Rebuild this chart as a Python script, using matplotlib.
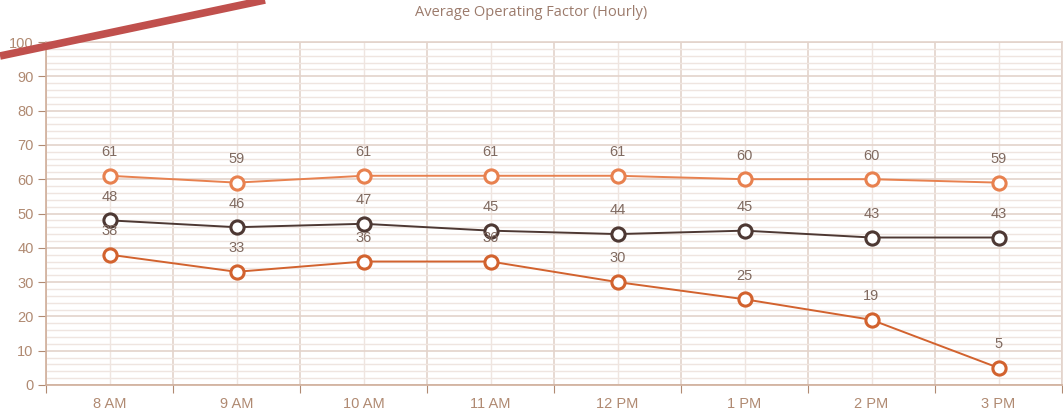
import matplotlib.pyplot as plt
from matplotlib.lines import Line2D
from matplotlib.ticker import MultipleLocator
import numpy as np

hours = ['8 AM', '9 AM', '10 AM', '11 AM', '12 PM', '1 PM', '2 PM', '3 PM']
upper = [61, 59, 61, 61, 61, 60, 60, 59]
middle = [48, 46, 47, 45, 44, 45, 43, 43]
lower = [38, 33, 36, 36, 30, 25, 19, 5]

series = [
    (upper, '#e8814f'),
    (middle, '#4d3833'),
    (lower, '#d2622e'),
]

label_color = '#806a60'
tick_color = '#b08a72'
major_grid = '#e3d3cb'
minor_grid = '#efe5e0'

fig = plt.figure(figsize=(10.63, 4.12), dpi=100)
ax = fig.add_axes([46 / 1063, 1 - 385 / 412, (1062 - 46) / 1063, (385 - 42) / 412])

x = np.arange(len(hours))
for vals, col in series:
    ax.plot(x, vals, color=col, lw=1.4, marker='o', ms=9.5, mfc='white',
            mec=col, mew=2.2, zorder=3, clip_on=False)
    for xi, v in zip(x, vals):
        ax.annotate(str(v), (xi, v), xytext=(0, 12), textcoords='offset points',
                    ha='center', va='bottom', fontsize=10.5, color=label_color,
                    family='Liberation Sans', zorder=4)

ax.set_xlim(-0.5, len(hours) - 0.5)
ax.set_ylim(0, 100)

# category band edges as major ticks, centers as labels
ax.set_xticks(np.arange(-0.5, len(hours), 1.0))
ax.set_xticklabels([])
ax.set_xticks(x, minor=True)
ax.set_xticklabels(hours, minor=True)
ax.tick_params(axis='x', which='minor', length=0, pad=9)
ax.tick_params(axis='x', which='major', length=6, color=tick_color)

ax.yaxis.set_major_locator(MultipleLocator(10))
ax.yaxis.set_minor_locator(MultipleLocator(2))
ax.tick_params(axis='y', which='major', length=6, color=tick_color, pad=3)
ax.tick_params(axis='y', which='minor', length=0)

for lab in ax.get_xticklabels(minor=True) + ax.get_yticklabels():
    lab.set_color(tick_color)
    lab.set_fontsize(10.5)
    lab.set_family('Liberation Sans')

ax.grid(True, which='major', axis='both', color=major_grid, lw=1.2, zorder=0)
ax.grid(True, which='minor', axis='y', color=minor_grid, lw=1.0, zorder=0)
ax.grid(True, which='minor', axis='x', color=minor_grid, lw=1.0, zorder=0)
ax.set_axisbelow(True)

for side in ['top', 'right']:
    ax.spines[side].set_color(major_grid)
    ax.spines[side].set_linewidth(1.2)
for side in ['left', 'bottom']:
    ax.spines[side].set_color('#cfae9a')
    ax.spines[side].set_linewidth(1.2)

fig.text(0.5, 1 - 13 / 412, 'Average Operating Factor (Hourly)', ha='center',
         va='center', fontsize=10.5, color='#9c7b6c', family='Open Sans')

# red diagonal stroke across the top-left corner
fig.add_artist(Line2D([0, 265 / 1063], [1 - 56 / 412, 1.0], transform=fig.transFigure,
                      color='#c0504d', lw=5.5, solid_capstyle='butt', zorder=10))

fig.savefig('out.png', dpi=100)
